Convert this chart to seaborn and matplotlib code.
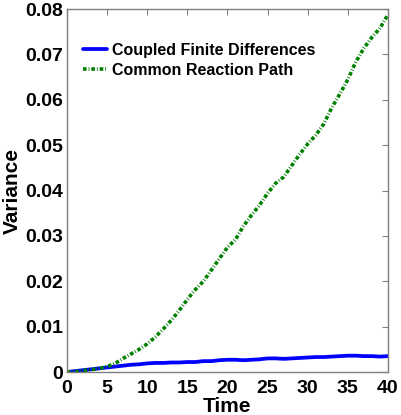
import matplotlib
matplotlib.use("Agg")
import matplotlib.pyplot as plt
import numpy as np
import pandas as pd
import seaborn as sns

# ── data ────────────────────────────────────────────────────────────────────
time = list(range(0, 41))

coupled_fd = [
    0.0000, 0.0002, 0.0004, 0.0006, 0.0008, 0.0010, 0.0012, 0.0014, 0.0016, 0.0017,
    0.0019, 0.0020, 0.0020, 0.0021, 0.0021, 0.0022, 0.0022, 0.0024, 0.0024, 0.0026,
    0.0027, 0.0027, 0.0026, 0.0027, 0.0028, 0.0030, 0.0030, 0.0029, 0.0030, 0.0031,
    0.0032, 0.0033, 0.0033, 0.0034, 0.0035, 0.0036, 0.0036, 0.0035, 0.0035, 0.0034,
    0.0035,
]

common_rp = [
    0.0000, 0.0001, 0.0003, 0.0005, 0.0008, 0.0012, 0.0019, 0.0030, 0.0040, 0.0050,
    0.0062, 0.0077, 0.0095, 0.0114, 0.0136, 0.0160, 0.0182, 0.0200, 0.0225, 0.0250,
    0.0275, 0.0292, 0.0322, 0.0346, 0.0368, 0.0394, 0.0416, 0.0430, 0.0455, 0.0480,
    0.0503, 0.0522, 0.0547, 0.0583, 0.0613, 0.0645, 0.0684, 0.0714, 0.0738, 0.0758,
    0.0788,
]

series_names = ["Coupled Finite Differences", "Common Reaction Path"]
x_ticks = [0, 5, 10, 15, 20, 25, 30, 35, 40]
y_ticks = [0, 0.01, 0.02, 0.03, 0.04, 0.05, 0.06, 0.07, 0.08]
y_tick_labels = ["0", "0.01", "0.02", "0.03", "0.04", "0.05", "0.06", "0.07", "0.08"]

# ── style ───────────────────────────────────────────────────────────────────
sns.set_style("white")
plt.rcParams["font.family"] = ["Liberation Sans", "DejaVu Sans"]
plt.rcParams["font.weight"] = "bold"
plt.rcParams["text.color"] = "black"
plt.rcParams["axes.labelcolor"] = "black"
plt.rcParams["xtick.labelcolor"] = "black"
plt.rcParams["ytick.labelcolor"] = "black"
plt.rcParams["lines.scale_dashes"] = False

spine_gray = "#7f7f7f"

fig = plt.figure(figsize=(4.01, 4.15), dpi=100)
ax = fig.add_axes([0.167, 0.1036, 0.8006, 0.8744])

sns.lineplot(x=time, y=coupled_fd, ax=ax, color="#0000ff", linewidth=2.7,
             label=series_names[0])
sns.lineplot(x=time, y=common_rp, ax=ax, color="#008000", linewidth=2.6,
             label=series_names[1])
ax.lines[1].set_dashes((2.6, 1.4, 0.6, 1.4))

ax.set_xlim(0, 40)
ax.set_ylim(0, 0.08)
ax.set_xticks(x_ticks)
ax.set_yticks(y_ticks)
ax.set_yticklabels(y_tick_labels)

for s in ax.spines.values():
    s.set_color(spine_gray)
    s.set_linewidth(1.0)

ax.tick_params(direction="in", length=4, width=0.8, color=spine_gray,
               top=True, right=True, labelsize=14, labelcolor="black")
ax.tick_params(axis="x", pad=6)
ax.tick_params(axis="y", pad=3)
for lbl in ax.get_xticklabels() + ax.get_yticklabels():
    lbl.set_fontweight("bold")

ax.set_xlabel("Time", fontsize=15, fontweight="bold", labelpad=0)
ax.set_ylabel("Variance", fontsize=15, fontweight="bold", labelpad=2)

ax.legend(loc="upper left", bbox_to_anchor=(0.03, 0.925), frameon=False,
          prop={"size": 11.5, "weight": "bold"}, handlelength=1.5,
          handletextpad=0.3, labelspacing=0.3, borderaxespad=0)

fig.savefig("out.png", dpi=100)
